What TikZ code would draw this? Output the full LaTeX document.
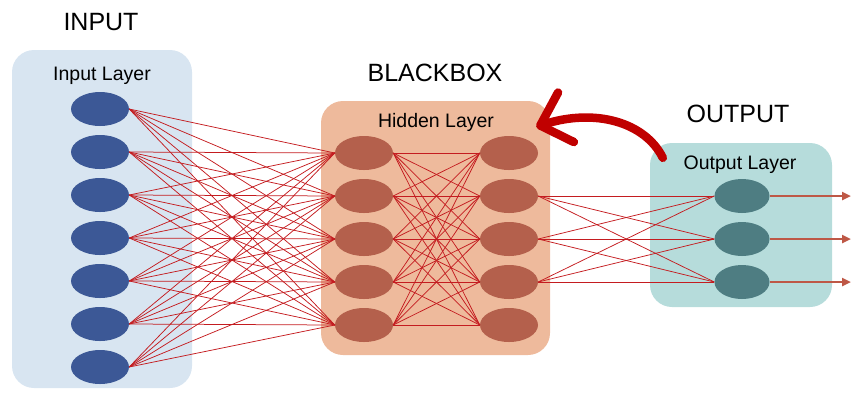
\documentclass[tikz,border=0pt]{standalone}
\usepackage{fontspec}
\setmainfont{Liberation Sans}
\usetikzlibrary{shapes.geometric,arrows.meta}

\definecolor{inback}{RGB}{216,229,241}
\definecolor{innode}{RGB}{60,88,150}
\definecolor{hidback}{RGB}{238,186,156}
\definecolor{hidnode}{RGB}{180,96,76}
\definecolor{outback}{RGB}{182,220,219}
\definecolor{outnode}{RGB}{78,125,130}
\definecolor{wirered}{RGB}{196,28,32}
\definecolor{outred}{RGB}{190,88,70}
\definecolor{backred}{RGB}{192,0,0}

\tikzset{
  layer/.style={rounded corners=22pt,inner sep=0pt},
  neuron/.style={ellipse,inner sep=0pt,minimum width=58pt,minimum height=34pt},
  wire/.style={draw=wirered,line width=0.75pt},
  title/.style={font=\fontsize{25}{30}\selectfont},
  caption/.style={font=\fontsize{19.5}{23}\selectfont},
}

\begin{document}
\begin{tikzpicture}[x=1pt,y=-1pt]
\useasboundingbox (0,0) rectangle (853,392);

\node (inbox) [layer,fill=inback,minimum width=180pt,minimum height=338pt] at (102,219) {};
\node (hidbox) [layer,fill=hidback,minimum width=229pt,minimum height=254pt] at (435.5,228) {};
\node (outbox) [layer,fill=outback,minimum width=182pt,minimum height=164pt] at (741,225) {};

\node (intitle) [title] at (101,22) {INPUT};
\node (hidtitle) [title] at (435,72.5) {BLACKBOX};
\node (outtitle) [title] at (738,114) {OUTPUT};
\node (incap) [caption] at (102,75.5) {Input Layer};
\node (hidcap) [caption] at (436,122) {Hidden Layer};
\node (outcap) [caption] at (740,165) {Output Layer};

\foreach \n/\y in {1/109,2/152,3/195,4/238,5/281,6/324,7/367}
  \node (i\n) [neuron,fill=innode] at (100,\y) {};
\foreach \n/\y in {1/153,2/196,3/239,4/282,5/325} {
  \node (a\n) [neuron,fill=hidnode] at (364,\y) {};
  \node (b\n) [neuron,fill=hidnode] at (509,\y) {};
}
\foreach \n/\y in {1/196,2/239,3/282} {
  \node (o\n) [neuron,fill=outnode,minimum width=55pt] at (742,\y) {};
  \coordinate (y\n) at (851,\y);
}

\foreach \s in {1,...,7}
  \foreach \t in {1,...,5}
    \draw[wire] (i\s.east) -- (a\t.west);
\foreach \s in {1,...,5}
  \foreach \t in {1,...,5}
    \draw[wire] (a\s.east) -- (b\t.west);
\foreach \s in {2,3,4}
  \foreach \t in {1,2,3}
    \draw[wire] (b\s.east) -- (o\t.west);

\foreach \n in {1,2,3}
  \draw[-{Triangle[length=9pt,width=8pt]},outred,line width=2.5pt] (o\n.east) -- (y\n);

\draw[-{Straight Barb[length=27pt,width=52pt,round]},backred,line width=8.5pt,line cap=round]
  ([shift={(13,15)}]outbox.north west) .. controls (645,122) and (595,108) .. ([shift={(-14,26)}]hidbox.north east);
\end{tikzpicture}
\end{document}
